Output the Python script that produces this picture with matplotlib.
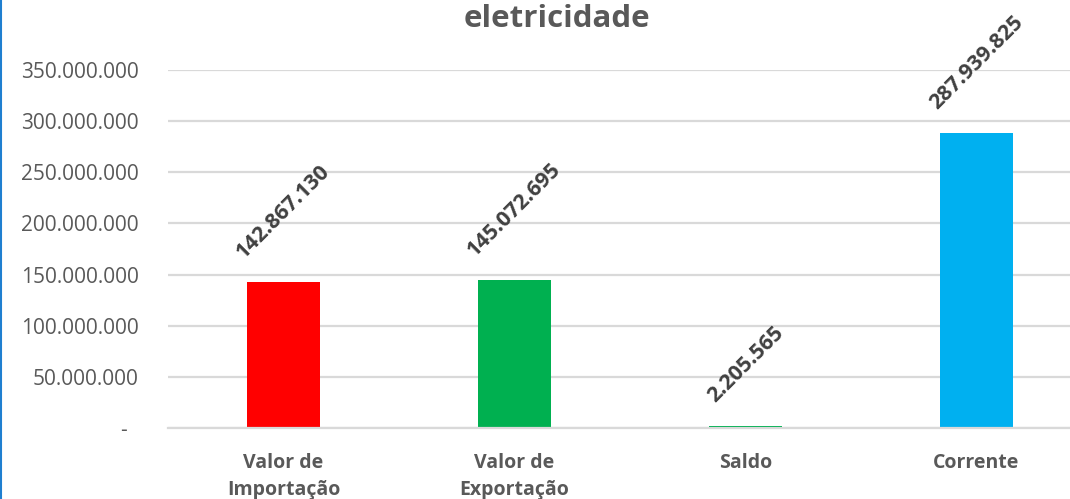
import matplotlib.pyplot as plt
from matplotlib.ticker import FuncFormatter

# Chart data
categories = ['Valor de\nImportação', 'Valor de\nExportação', 'Saldo', 'Corrente']
values = [142867130, 145072695, 2205565, 287939825]
bar_colors = ['#FF0000', '#00B050', '#00B050', '#00B0F0']
y_ticks = [0, 50000000, 100000000, 150000000, 200000000, 250000000, 300000000, 350000000]

plt.rcParams['font.family'] = ['Open Sans', 'DejaVu Sans']


def br_format(v, pos=None):
    # Excel accounting style: dots as thousand separator, dash for zero
    if v == 0:
        return '-  '
    return f"{int(v):,}".replace(',', '.')


fig = plt.figure(figsize=(10.7, 4.99), dpi=100)
ax = fig.add_axes([168 / 1070, 71 / 499, 924 / 1070, 358 / 499])

x = list(range(len(categories)))
ax.bar(x, values, width=0.316, color=bar_colors, zorder=2)

for xi, v in zip(x, values):
    ax.annotate(br_format(v), (xi, v), xytext=(0, 14), textcoords='offset points',
                rotation=45, ha='center', va='bottom', fontsize=15.5,
                fontweight='bold', color='#404040', annotation_clip=False)

ax.set_xlim(-0.5, len(categories) - 0.5)
ax.set_ylim(0, 350000000)
ax.set_yticks(y_ticks)
ax.yaxis.set_major_formatter(FuncFormatter(br_format))
ax.set_xticks(x)
ax.set_xticklabels(categories, fontsize=14, fontweight='bold', color='#595959',
                   linespacing=1.5, va='top')

ax.grid(axis='y', color='#D9D9D9', linewidth=1.6, zorder=0)
for side in ['top', 'right', 'left']:
    ax.spines[side].set_visible(False)
ax.spines['bottom'].set_color('#D9D9D9')
ax.spines['bottom'].set_linewidth(1.6)
ax.tick_params(axis='y', length=0, pad=21, labelsize=15, labelcolor='#595959')
ax.tick_params(axis='x', length=0, pad=18)

fig.text(557 / 1070, 1 - 27 / 499, 'eletricidade', ha='center', va='baseline',
         fontsize=22.5, fontweight='bold', color='#595959')

# blue selection border on the left edge
fig.add_artist(plt.Line2D([0.001, 0.001], [0, 1], color='#1F7FD0', linewidth=1.5))

fig.savefig('out.png', dpi=100)
